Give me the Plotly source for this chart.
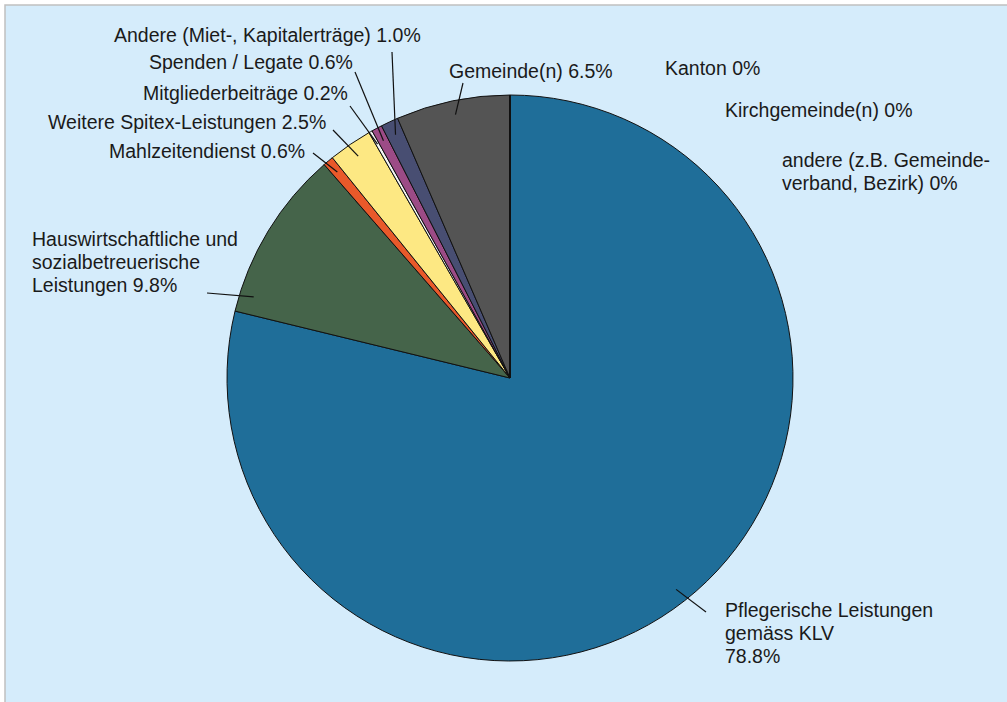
import math
import plotly.graph_objects as go

W, H = 1007, 702

# data
labels = [
    "Pflegerische Leistungen gemäss KLV",
    "Hauswirtschaftliche und sozialbetreuerische Leistungen",
    "Mahlzeitendienst",
    "Weitere Spitex-Leistungen",
    "Mitgliederbeiträge",
    "Spenden / Legate",
    "Andere (Miet-, Kapitalerträge)",
    "Gemeinde(n)",
    "Kanton",
    "Kirchgemeinde(n)",
    "andere (z.B. Gemeindeverband, Bezirk)",
]
values = [78.8, 9.8, 0.6, 2.5, 0.2, 0.6, 1.0, 6.5, 0, 0, 0]
label_text = [
    "Pflegerische Leistungen<br>gemäss KLV<br>78.8%",
    "Hauswirtschaftliche und<br>sozialbetreuerische<br>Leistungen 9.8%",
    "Mahlzeitendienst 0.6%",
    "Weitere Spitex-Leistungen 2.5%",
    "Mitgliederbeiträge 0.2%",
    "Spenden / Legate 0.6%",
    "Andere (Miet-, Kapitalerträge) 1.0%",
    "Gemeinde(n) 6.5%",
    "Kanton 0%",
    "Kirchgemeinde(n) 0%",
    "andere (z.B. Gemeinde-<br>verband, Bezirk) 0%",
]
colors = ["#1f6e99", "#45644a", "#e9592a", "#fde883", "#f4f4f4",
          "#9c4b86", "#484e72", "#545454", "#888888", "#888888", "#888888"]

# layout of the pie (pixels)
CX, CY, R = 510, 378, 283
LINE_H = 23

# label placement: first-line centre (px), xanchor, leader outer end (px) or None,
# position inside slice as fraction of slice angle
label_pos = [
    (723, 610, "left", (706, 612), 0.5),
    (30, 239, "left", (207, 293), 0.11),
    (307, 151, "right", (313, 153), 0.5),
    (328, 122, "right", (333, 130), 0.5),
    (350, 93, "right", (350, 106), 0.5),
    (355, 62, "right", (355, 72), 0.5),
    (423, 35, "right", (392, 52), 0.5),
    (447, 71, "left", (463, 83), 0.5),
    (663, 68, "left", None, 0.5),
    (723, 110, "left", None, 0.5),
    (780, 160, "left", None, 0.5),
]


def px(x):
    return x / W


def py(y):
    return 1 - y / H


fig = go.Figure(go.Pie(
    labels=labels,
    values=values,
    sort=False,
    direction="clockwise",
    rotation=0,
    textinfo="none",
    hoverinfo="label+percent",
    marker=dict(colors=colors, line=dict(color="#111111", width=1)),
    domain=dict(x=[px(CX - R), px(CX + R)], y=[py(CY + R), py(CY - R)]),
    showlegend=False,
))

shapes = [dict(type="rect", xref="paper", yref="paper",
               x0=px(5), x1=px(W + 5), y0=py(H + 5), y1=py(5),
               fillcolor="#d5ecfb", line=dict(color="#c0c0c0", width=1.5),
               layer="below")]
annotations = []

total = sum(values)
cum = 0
for i, v in enumerate(values):
    tx, ty, anchor, outer, frac = label_pos[i]
    ang = (cum + v * frac) / total * 2 * math.pi
    cum += v
    if outer is not None:
        ix = CX + 0.95 * R * math.sin(ang)
        iy = CY - 0.95 * R * math.cos(ang)
        shapes.append(dict(type="line", xref="paper", yref="paper",
                           x0=px(ix), y0=py(iy), x1=px(outer[0]), y1=py(outer[1]),
                           line=dict(color="#111111", width=1.2)))
    for k, line in enumerate(label_text[i].split("<br>")):
        annotations.append(dict(
            x=px(tx), y=py(ty + k * LINE_H), xref="paper", yref="paper",
            text=line, showarrow=False, xanchor=anchor, yanchor="middle",
            align="left", font=dict(size=19.5, color="#1a1a1a"),
        ))

fig.update_layout(
    width=W, height=H,
    margin=dict(l=0, r=0, t=0, b=0),
    paper_bgcolor="white",
    font=dict(family="Liberation Sans, Arial, sans-serif"),
    shapes=shapes,
    annotations=annotations,
)

fig.write_html("out.html", config={"displayModeBar": False},
               post_script="document.body.style.margin='0';")
